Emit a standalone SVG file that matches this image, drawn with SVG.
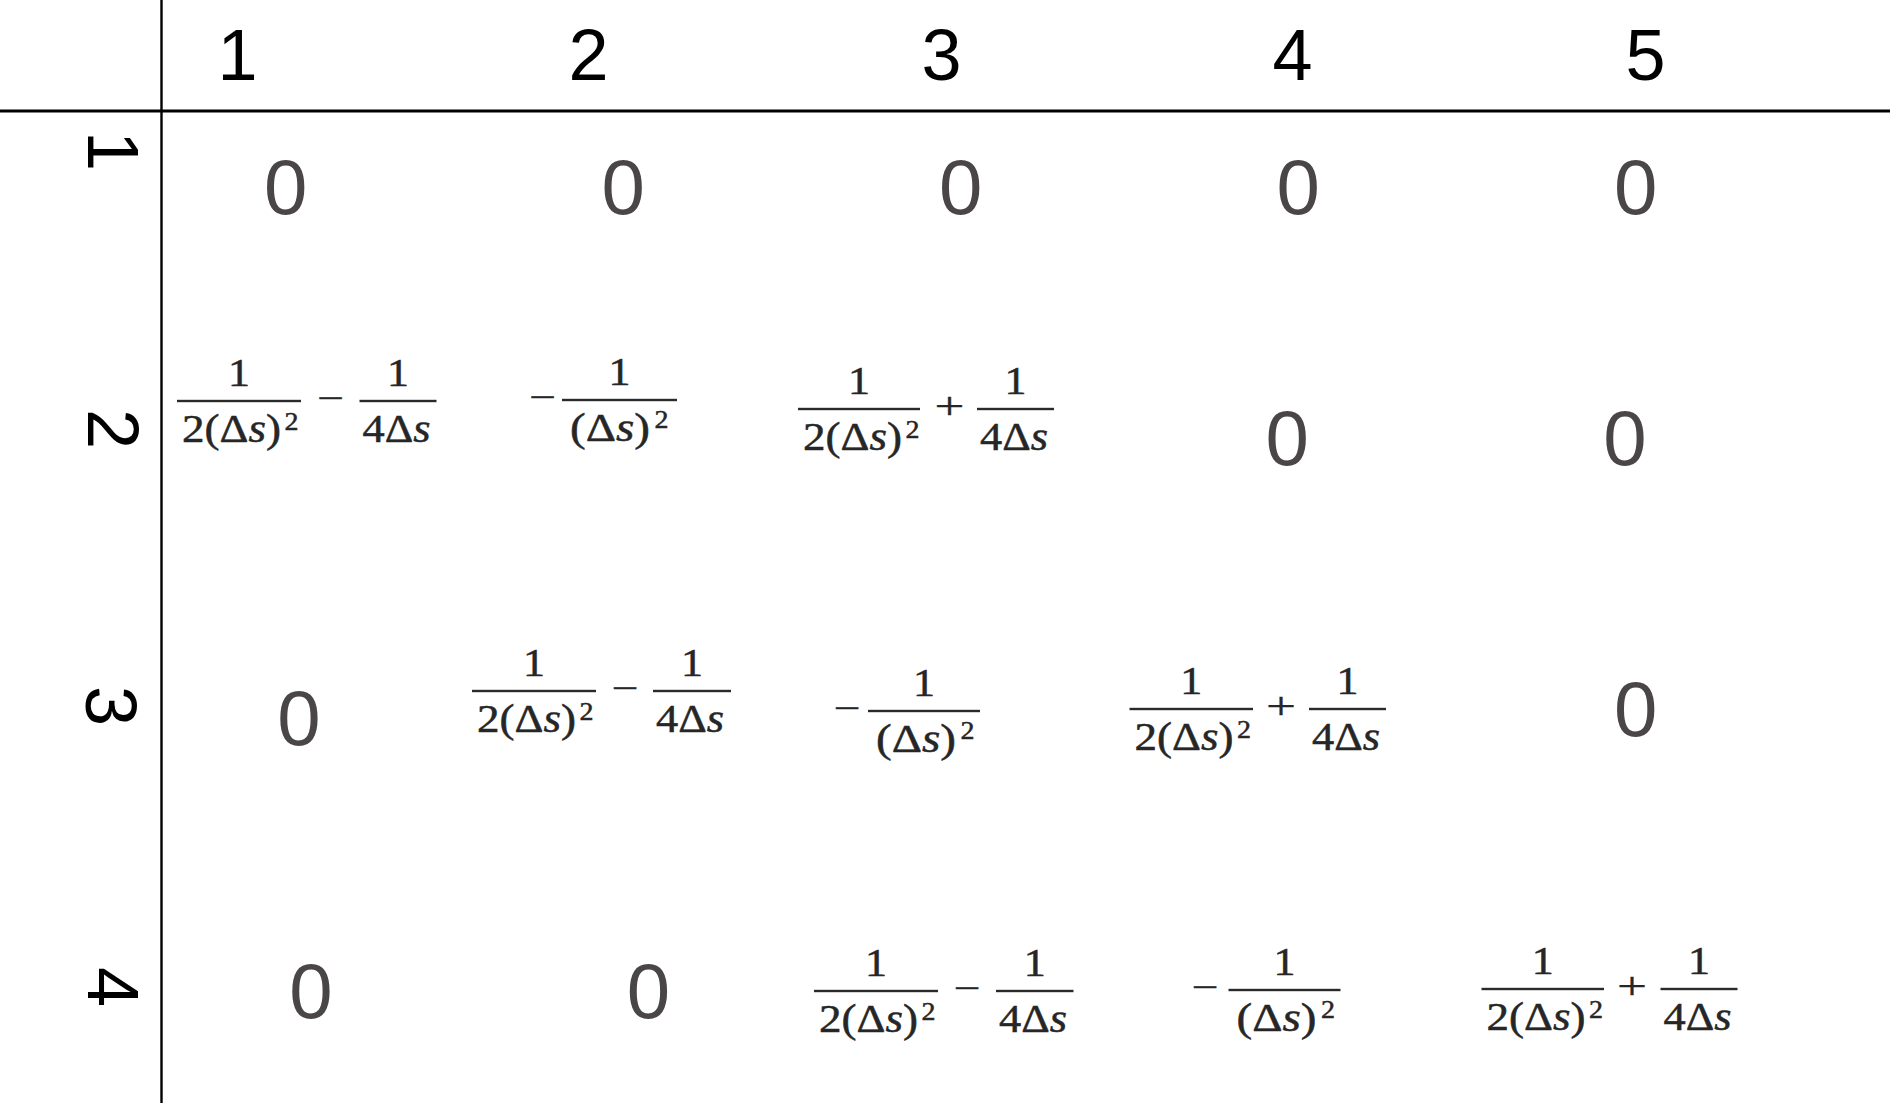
<svg xmlns="http://www.w3.org/2000/svg" width="1890" height="1103" viewBox="0 0 1890 1103">
<style>
.hdr{font-family:"Liberation Sans",Arial,sans-serif;font-size:72px;fill:#000;text-anchor:middle}
.zero{font-family:"Liberation Sans",Arial,sans-serif;font-size:78px;fill:#4a4546;text-anchor:middle}
.m{font-family:"Liberation Serif","Times New Roman",serif;font-size:39px;fill:#262626;stroke:#262626;stroke-width:0.5}
.sup{font-size:26px}
.op{font-size:38px;stroke-width:0.3}
.c{text-anchor:middle}
.i{font-style:italic}
.bar{fill:#2a2a2a}
.line{stroke:#000;fill:none}
</style>
<rect width="1890" height="1103" fill="#fff"/>
<g id="grid">
<line class="line" x1="161.5" y1="0" x2="161.5" y2="1103" stroke-width="2.4"/>
<line class="line" x1="0" y1="111" x2="1890" y2="111" stroke-width="3"/>
</g>
<g id="col-headers">
<text class="hdr" x="237.5" y="80">1</text>
<text class="hdr" x="588.5" y="80">2</text>
<text class="hdr" x="941.5" y="80">3</text>
<text class="hdr" x="1292.5" y="80">4</text>
<text class="hdr" x="1645.5" y="80">5</text>
</g>
<g id="row-headers">
<text class="hdr" transform="translate(88,151) rotate(90)">1</text>
<text class="hdr" transform="translate(88,429) rotate(90)">2</text>
<text class="hdr" transform="translate(86,706) rotate(90)">3</text>
<text class="hdr" transform="translate(88,987) rotate(90)">4</text>
</g>
<g id="row1">
<text class="zero" x="285.7" y="213.5">0</text>
<text class="zero" x="623.2" y="213.5">0</text>
<text class="zero" x="960.7" y="213.5">0</text>
<text class="zero" x="1298.2" y="213.5">0</text>
<text class="zero" x="1635.7" y="213.5">0</text>
</g>
<g id="row2">
<g id="c21">
<rect class="bar" x="177" y="399.8" width="124" height="2.4"/>
<text class="m c" x="239" y="386" textLength="22" lengthAdjust="spacingAndGlyphs">1</text>
<text class="m" x="182" y="442" textLength="99" lengthAdjust="spacingAndGlyphs">2(Δ<tspan class="i">s</tspan>)</text>
<text class="m sup c" x="291.5" y="430" textLength="14" lengthAdjust="spacingAndGlyphs">2</text>
<text class="m op c" x="330.5" y="411" textLength="27" lengthAdjust="spacingAndGlyphs">−</text>
<rect class="bar" x="359.5" y="399.8" width="77" height="2.4"/>
<text class="m c" x="398" y="386" textLength="22" lengthAdjust="spacingAndGlyphs">1</text>
<text class="m" x="362.5" y="442" textLength="68" lengthAdjust="spacingAndGlyphs">4Δ<tspan class="i">s</tspan></text>
</g>
<g id="c22">
<text class="m op c" x="542.5" y="410" textLength="27" lengthAdjust="spacingAndGlyphs">−</text>
<rect class="bar" x="562" y="398.8" width="115" height="2.4"/>
<text class="m c" x="619.5" y="385" textLength="22" lengthAdjust="spacingAndGlyphs">1</text>
<text class="m" x="570" y="441" textLength="80" lengthAdjust="spacingAndGlyphs">(Δ<tspan class="i">s</tspan>)</text>
<text class="m sup c" x="661.5" y="428" textLength="14" lengthAdjust="spacingAndGlyphs">2</text>
</g>
<g id="c23">
<rect class="bar" x="798" y="407.8" width="122" height="2.4"/>
<text class="m c" x="859" y="394" textLength="22" lengthAdjust="spacingAndGlyphs">1</text>
<text class="m" x="803" y="450" textLength="99" lengthAdjust="spacingAndGlyphs">2(Δ<tspan class="i">s</tspan>)</text>
<text class="m sup c" x="912.5" y="438" textLength="14" lengthAdjust="spacingAndGlyphs">2</text>
<text class="m op c" x="949.5" y="419" textLength="30" lengthAdjust="spacingAndGlyphs">+</text>
<rect class="bar" x="977" y="407.8" width="77" height="2.4"/>
<text class="m c" x="1015.5" y="394" textLength="22" lengthAdjust="spacingAndGlyphs">1</text>
<text class="m" x="980" y="450" textLength="68" lengthAdjust="spacingAndGlyphs">4Δ<tspan class="i">s</tspan></text>
</g>
<text class="zero" x="1287.3" y="465">0</text>
<text class="zero" x="1624.9" y="465">0</text>
</g>
<g id="row3">
<text class="zero" x="298.9" y="744.6">0</text>
<g id="c32">
<rect class="bar" x="472" y="689.8" width="124" height="2.4"/>
<text class="m c" x="534" y="676" textLength="22" lengthAdjust="spacingAndGlyphs">1</text>
<text class="m" x="477" y="732" textLength="99" lengthAdjust="spacingAndGlyphs">2(Δ<tspan class="i">s</tspan>)</text>
<text class="m sup c" x="586.5" y="720" textLength="14" lengthAdjust="spacingAndGlyphs">2</text>
<text class="m op c" x="625" y="701" textLength="27" lengthAdjust="spacingAndGlyphs">−</text>
<rect class="bar" x="653" y="689.8" width="78" height="2.4"/>
<text class="m c" x="692" y="676" textLength="22" lengthAdjust="spacingAndGlyphs">1</text>
<text class="m" x="656" y="732" textLength="68" lengthAdjust="spacingAndGlyphs">4Δ<tspan class="i">s</tspan></text>
</g>
<g id="c33">
<text class="m op c" x="847" y="721" textLength="27" lengthAdjust="spacingAndGlyphs">−</text>
<rect class="bar" x="868" y="709.8" width="112" height="2.4"/>
<text class="m c" x="924" y="696" textLength="22" lengthAdjust="spacingAndGlyphs">1</text>
<text class="m" x="876" y="752" textLength="80" lengthAdjust="spacingAndGlyphs">(Δ<tspan class="i">s</tspan>)</text>
<text class="m sup c" x="967.5" y="739" textLength="14" lengthAdjust="spacingAndGlyphs">2</text>
</g>
<g id="c34">
<rect class="bar" x="1129.5" y="707.8" width="123.5" height="2.4"/>
<text class="m c" x="1191.3" y="694" textLength="22" lengthAdjust="spacingAndGlyphs">1</text>
<text class="m" x="1134.5" y="750" textLength="99" lengthAdjust="spacingAndGlyphs">2(Δ<tspan class="i">s</tspan>)</text>
<text class="m sup c" x="1244" y="738" textLength="14" lengthAdjust="spacingAndGlyphs">2</text>
<text class="m op c" x="1281" y="719" textLength="30" lengthAdjust="spacingAndGlyphs">+</text>
<rect class="bar" x="1309" y="707.8" width="77" height="2.4"/>
<text class="m c" x="1347.5" y="694" textLength="22" lengthAdjust="spacingAndGlyphs">1</text>
<text class="m" x="1312" y="750" textLength="68" lengthAdjust="spacingAndGlyphs">4Δ<tspan class="i">s</tspan></text>
</g>
<text class="zero" x="1635.7" y="736.2">0</text>
</g>
<g id="row4">
<text class="zero" x="311" y="1018.2">0</text>
<text class="zero" x="648.5" y="1018.2">0</text>
<g id="c43">
<rect class="bar" x="814" y="989.8" width="124" height="2.4"/>
<text class="m c" x="876" y="976" textLength="22" lengthAdjust="spacingAndGlyphs">1</text>
<text class="m" x="819" y="1032" textLength="99" lengthAdjust="spacingAndGlyphs">2(Δ<tspan class="i">s</tspan>)</text>
<text class="m sup c" x="928.5" y="1020" textLength="14" lengthAdjust="spacingAndGlyphs">2</text>
<text class="m op c" x="967" y="1001" textLength="27" lengthAdjust="spacingAndGlyphs">−</text>
<rect class="bar" x="996" y="989.8" width="77.5" height="2.4"/>
<text class="m c" x="1034.8" y="976" textLength="22" lengthAdjust="spacingAndGlyphs">1</text>
<text class="m" x="999" y="1032" textLength="68" lengthAdjust="spacingAndGlyphs">4Δ<tspan class="i">s</tspan></text>
</g>
<g id="c44">
<text class="m op c" x="1205" y="1000" textLength="27" lengthAdjust="spacingAndGlyphs">−</text>
<rect class="bar" x="1228.5" y="988.8" width="112" height="2.4"/>
<text class="m c" x="1284.5" y="975" textLength="22" lengthAdjust="spacingAndGlyphs">1</text>
<text class="m" x="1236.5" y="1031" textLength="80" lengthAdjust="spacingAndGlyphs">(Δ<tspan class="i">s</tspan>)</text>
<text class="m sup c" x="1328" y="1018" textLength="14" lengthAdjust="spacingAndGlyphs">2</text>
</g>
<g id="c45">
<rect class="bar" x="1481.5" y="987.8" width="122.5" height="2.4"/>
<text class="m c" x="1542.8" y="974" textLength="22" lengthAdjust="spacingAndGlyphs">1</text>
<text class="m" x="1486.5" y="1030" textLength="99" lengthAdjust="spacingAndGlyphs">2(Δ<tspan class="i">s</tspan>)</text>
<text class="m sup c" x="1596" y="1018" textLength="14" lengthAdjust="spacingAndGlyphs">2</text>
<text class="m op c" x="1632" y="999" textLength="30" lengthAdjust="spacingAndGlyphs">+</text>
<rect class="bar" x="1660.5" y="987.8" width="77" height="2.4"/>
<text class="m c" x="1699" y="974" textLength="22" lengthAdjust="spacingAndGlyphs">1</text>
<text class="m" x="1663.5" y="1030" textLength="68" lengthAdjust="spacingAndGlyphs">4Δ<tspan class="i">s</tspan></text>
</g>
</g>
</svg>
